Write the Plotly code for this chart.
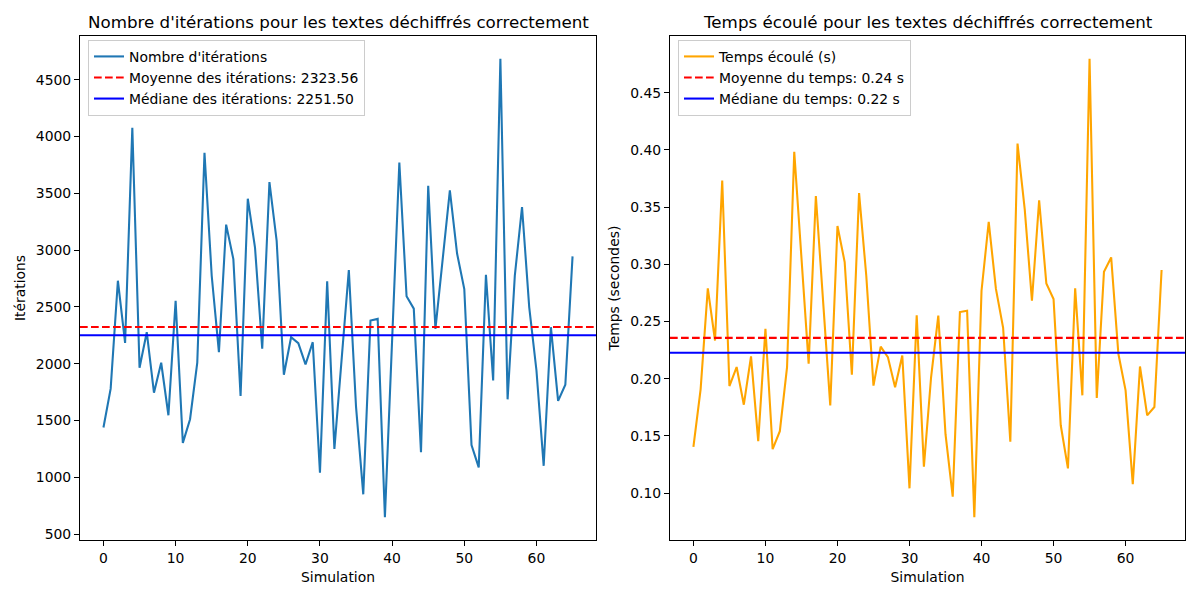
import plotly.graph_objects as go

simulations = list(range(66))

iterations = [1439, 1781, 2731, 2184, 4076, 1965, 2278, 1746, 2009, 1547,
              2555, 1304, 1512, 2009, 3857, 2775, 2102, 3225, 2921, 1716,
              3453, 3023, 2132, 3599, 3082, 1903, 2234, 2181, 1994, 2190,
              1041, 2725, 1250, 2050, 2825, 1620, 851, 2380, 2395, 649,
              2200, 3772, 2594, 2485, 1222, 3567, 2307, 2920, 3527, 2970,
              2658, 1284, 1088, 2784, 1854, 4684, 1687, 2775, 3380, 2497,
              1941, 1102, 2322, 1673, 1816, 2945]

temps = [0.1405, 0.1907, 0.2790, 0.2334, 0.3733, 0.1936, 0.2102, 0.1773, 0.2195, 0.1454,
         0.2436, 0.1384, 0.1541, 0.2102, 0.3983, 0.3045, 0.2131, 0.3597, 0.2682, 0.1767,
         0.3335, 0.3020, 0.2035, 0.3623, 0.2900, 0.1940, 0.2280, 0.2189, 0.1925, 0.2203,
         0.1042, 0.2554, 0.1231, 0.2015, 0.2551, 0.1515, 0.0969, 0.2583, 0.2595, 0.0789,
         0.2769, 0.3370, 0.2785, 0.2445, 0.1449, 0.4055, 0.3480, 0.2682, 0.3559, 0.2832,
         0.2697, 0.1593, 0.1216, 0.2790, 0.1855, 0.4796, 0.1832, 0.2935, 0.3060, 0.2218,
         0.1898, 0.1079, 0.2107, 0.1680, 0.1753, 0.2950]

mean_iter = 2323.56
median_iter = 2251.50
mean_temps = 0.2357
median_temps = 0.2227

x_ticks = [0, 10, 20, 30, 40, 50, 60]
y1_ticks = [500, 1000, 1500, 2000, 2500, 3000, 3500, 4000, 4500]
y2_ticks = [0.10, 0.15, 0.20, 0.25, 0.30, 0.35, 0.40, 0.45]

title_left = "Nombre d'itérations pour les textes déchiffrés correctement"
title_right = "Temps écoulé pour les textes déchiffrés correctement"


def padded(vals, frac=0.05):
    lo, hi = min(vals), max(vals)
    d = (hi - lo) * frac
    return [lo - d, hi + d]


FONT = "DejaVu Sans"
OFF = 8              # page body margin
W, H = 1200 - OFF, 600 - OFF
FS = 13.9            # 10pt at 100 dpi
TFS = 16.7           # 12pt at 100 dpi


def px_x(p):
    return (p - OFF) / W


def px_y(p):
    return 1 - (p - OFF) / H


fig = go.Figure()

fig.add_trace(go.Scatter(x=simulations, y=iterations, mode="lines",
                         line=dict(color="#1f77b4", width=2.08),
                         name="Nombre d'itérations", xaxis="x", yaxis="y",
                         legend="legend"))
fig.add_trace(go.Scatter(x=simulations, y=temps, mode="lines",
                         line=dict(color="orange", width=2.08),
                         name="Temps écoulé (s)", xaxis="x2", yaxis="y2",
                         legend="legend2"))

dash = "7.7px,3.3px"
fig.add_shape(type="line", xref="x domain", yref="y", x0=0, x1=1,
              y0=mean_iter, y1=mean_iter, line=dict(color="red", width=2.08, dash=dash),
              showlegend=True, name=f"Moyenne des itérations: {mean_iter:.2f}", legend="legend")
fig.add_shape(type="line", xref="x domain", yref="y", x0=0, x1=1,
              y0=median_iter, y1=median_iter, line=dict(color="blue", width=2.08),
              showlegend=True, name=f"Médiane des itérations: {median_iter:.2f}", legend="legend")
fig.add_shape(type="line", xref="x2 domain", yref="y2", x0=0, x1=1,
              y0=mean_temps, y1=mean_temps, line=dict(color="red", width=2.08, dash=dash),
              showlegend=True, name=f"Moyenne du temps: {mean_temps:.2f} s", legend="legend2")
fig.add_shape(type="line", xref="x2 domain", yref="y2", x0=0, x1=1,
              y0=median_temps, y1=median_temps, line=dict(color="blue", width=2.08),
              showlegend=True, name=f"Médiane du temps: {median_temps:.2f} s", legend="legend2")

axis_common = dict(showline=True, mirror=True, linecolor="black", linewidth=1.1,
                   ticks="outside", ticklen=5, tickwidth=1.1, tickcolor="black",
                   showgrid=False, zeroline=False,
                   tickfont=dict(family=FONT, size=FS, color="black"))

xr = [min(simulations) - 0.05 * (max(simulations) - min(simulations)),
      max(simulations) + 0.05 * (max(simulations) - min(simulations))]

ydom = [px_y(542), px_y(36)]

legend_common = dict(xanchor="left", yanchor="top",
                     bgcolor="rgba(255,255,255,0.8)", bordercolor="#cccccc", borderwidth=1,
                     font=dict(family=FONT, size=FS), tracegroupgap=0)

fig.update_layout(
    width=W, height=H,
    margin=dict(l=0, r=0, t=0, b=0),
    paper_bgcolor="white", plot_bgcolor="white",
    font=dict(family=FONT, size=FS, color="black"),
    xaxis=dict(domain=[px_x(80), px_x(596)], range=xr, tickvals=x_ticks, anchor="y",
               title=dict(text="Simulation", standoff=7, font=dict(size=FS)), **axis_common),
    yaxis=dict(domain=ydom, range=padded(iterations), tickvals=y1_ticks, anchor="x",
               title=dict(text="Itérations", standoff=6, font=dict(size=FS)), **axis_common),
    xaxis2=dict(domain=[px_x(670), px_x(1185)], range=xr, tickvals=x_ticks, anchor="y2",
                title=dict(text="Simulation", standoff=7, font=dict(size=FS)), **axis_common),
    yaxis2=dict(domain=ydom, range=padded(temps), tickvals=y2_ticks, tickformat=".2f",
                anchor="x2",
                title=dict(text="Temps (secondes)", standoff=7, font=dict(size=FS)), **axis_common),
    legend=dict(x=px_x(88), y=px_y(40), **legend_common),
    legend2=dict(x=px_x(678), y=px_y(40), **legend_common),
    annotations=[
        dict(text=title_left, x=px_x((80 + 596) / 2), y=px_y(22), xref="paper", yref="paper",
             xanchor="center", yanchor="middle", showarrow=False,
             font=dict(family=FONT, size=TFS, color="black")),
        dict(text=title_right, x=px_x((670 + 1185) / 2), y=px_y(22), xref="paper", yref="paper",
             xanchor="center", yanchor="middle", showarrow=False,
             font=dict(family=FONT, size=TFS, color="black")),
    ],
)

fig.write_html("out.html")
